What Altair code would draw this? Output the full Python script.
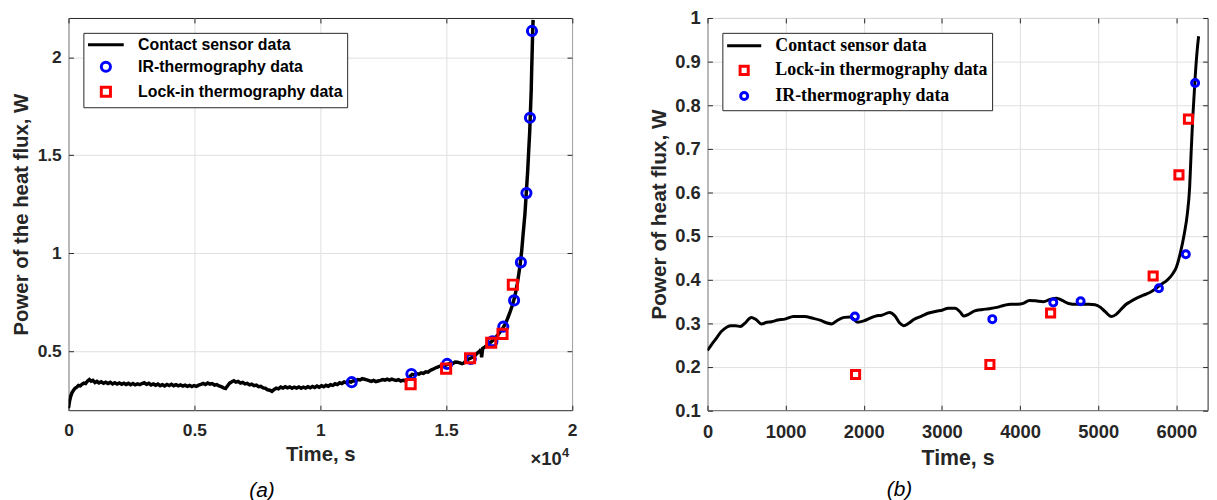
import altair as alt
import pandas as pd

# ---------------- data: panel (a) ----------------
A_LINE_T = [0, 40, 90, 140, 200, 260, 330, 400, 470, 540, 610, 680, 760, 830, 900, 970,
            1050, 1130, 1210, 1300, 1390, 1480, 1570, 1660, 1750, 1840, 1930, 2020, 2110,
            2200, 2290, 2380, 2470, 2560, 2650, 2740, 2830, 2920, 3010, 3100, 3190, 3280,
            3370, 3460, 3550, 3640, 3730, 3820, 3910, 4000, 4090, 4180, 4270, 4360, 4450,
            4540, 4630, 4720, 4810, 4900, 4990, 5080, 5170, 5260, 5350, 5440, 5530, 5620,
            5710, 5800, 5890, 5980, 6070, 6160, 6240, 6320, 6400, 6490, 6570, 6650, 6740,
            6830, 6920, 7010, 7100, 7190, 7280, 7370, 7460, 7550, 7640, 7730, 7820, 7910,
            8000, 8080, 8160, 8250, 8340, 8430, 8520, 8610, 8700, 8790, 8880, 8970, 9060,
            9150, 9240, 9330, 9420, 9510, 9600, 9690, 9780, 9870, 9960, 10050, 10140, 10230,
            10320, 10410, 10500, 10590, 10680, 10770, 10860, 10950, 11040, 11130, 11220,
            11310, 11400, 11490, 11580, 11670, 11760, 11850, 11940, 12030, 12120, 12210,
            12300, 12390, 12480, 12570, 12660, 12750, 12840, 12930, 13020, 13110, 13200,
            13290, 13380, 13470, 13560, 13650, 13740, 13830, 13920, 14010, 14100, 14190,
            14280, 14370, 14460, 14550, 14640, 14730, 14820, 14910, 15000, 15090, 15180,
            15270, 15360, 15450, 15540, 15630, 15720, 15810, 15900, 15990, 16080, 16170,
            16260, 16350, 16380, 16410, 16450, 16530, 16620, 16710, 16800, 16890, 16980,
            17070, 17160, 17250, 17340, 17430, 17530, 17630, 17730, 17830, 17930, 18000,
            18060, 18130, 18190, 18240, 18280, 18320, 18350, 18380, 18400, 18420, 18440, 18455]
A_LINE_V = [0.212, 0.245, 0.272, 0.290, 0.302, 0.312, 0.318, 0.326, 0.324, 0.333, 0.338, 0.336,
            0.349, 0.356, 0.348, 0.352, 0.341, 0.347, 0.339, 0.345, 0.337, 0.343, 0.336, 0.342,
            0.334, 0.340, 0.333, 0.339, 0.332, 0.338, 0.331, 0.337, 0.330, 0.336, 0.329, 0.334,
            0.330, 0.336, 0.340, 0.332, 0.337, 0.329, 0.334, 0.327, 0.333, 0.325, 0.330, 0.324,
            0.331, 0.326, 0.332, 0.325, 0.330, 0.324, 0.329, 0.323, 0.328, 0.322, 0.327, 0.321,
            0.326, 0.322, 0.328, 0.332, 0.337, 0.331, 0.339, 0.333, 0.336, 0.328, 0.331, 0.324,
            0.320, 0.314, 0.311, 0.325, 0.338, 0.345, 0.350, 0.343, 0.347, 0.338, 0.342, 0.334,
            0.337, 0.329, 0.333, 0.325, 0.328, 0.320, 0.322, 0.314, 0.312, 0.304, 0.302, 0.296,
            0.305, 0.313, 0.309, 0.318, 0.313, 0.320, 0.314, 0.319, 0.312, 0.318, 0.313, 0.319,
            0.312, 0.318, 0.313, 0.320, 0.314, 0.321, 0.316, 0.323, 0.317, 0.325, 0.320, 0.327,
            0.322, 0.330, 0.327, 0.335, 0.331, 0.340, 0.336, 0.344, 0.340, 0.346, 0.343, 0.350,
            0.348, 0.356, 0.354, 0.361, 0.358, 0.355, 0.351, 0.347, 0.352, 0.346, 0.349, 0.352,
            0.356, 0.353, 0.358, 0.354, 0.359, 0.355, 0.352, 0.356, 0.349, 0.353, 0.350, 0.358,
            0.372, 0.383, 0.380, 0.387, 0.384, 0.391, 0.388, 0.396, 0.394, 0.403, 0.408, 0.414,
            0.419, 0.423, 0.427, 0.425, 0.431, 0.435, 0.440, 0.438, 0.446, 0.445, 0.441, 0.437,
            0.442, 0.455, 0.461, 0.466, 0.474, 0.482, 0.494, 0.502, 0.512, 0.470, 0.515, 0.522,
            0.531, 0.541, 0.550, 0.561, 0.573, 0.587, 0.602, 0.618, 0.638, 0.664, 0.697, 0.735,
            0.781, 0.846, 0.933, 1.01, 1.10, 1.20, 1.32, 1.42, 1.523, 1.62, 1.725, 1.83, 1.944,
            2.04, 2.146, 2.19]
A_IR_T = [11250, 13620, 15040, 15980, 16840, 17270, 17700, 17970, 18190, 18330, 18410]
A_IR_V = [0.343, 0.385, 0.436, 0.461, 0.552, 0.626, 0.760, 0.954, 1.307, 1.691, 2.134]
A_LI_T = [13590, 15000, 15950, 16790, 17240, 17650]
A_LI_V = [0.333, 0.412, 0.465, 0.544, 0.589, 0.840]

# ---------------- data: panel (b) ----------------
B_LINE_T = [0, 50, 100, 180, 250, 300, 360, 420, 480, 560, 620, 690, 760, 820, 900, 990, 1100,
            1240, 1350, 1450, 1530, 1590, 1660, 1750, 1830, 1920, 2000, 2090, 2150, 2230, 2330,
            2400, 2460, 2510, 2570, 2640, 2740, 2830, 2930, 3010, 3080, 3170, 3230, 3280, 3340,
            3420, 3520, 3600, 3700, 3800, 3880, 3970, 4040, 4120, 4200, 4300, 4380, 4470, 4540,
            4620, 4720, 4800, 4880, 4960, 5030, 5090, 5170, 5230, 5290, 5350, 5410, 5480, 5580,
            5660, 5730, 5800, 5880, 5950, 6000, 6050, 6100, 6140, 6170, 6190, 6210, 6240, 6265,
            6285]
B_LINE_V = [0.237, 0.250, 0.262, 0.281, 0.291, 0.294, 0.294, 0.292, 0.300, 0.313, 0.308, 0.298,
            0.302, 0.303, 0.307, 0.309, 0.315, 0.315, 0.311, 0.306, 0.300, 0.298, 0.306, 0.313,
            0.314, 0.302, 0.305, 0.312, 0.316, 0.318, 0.324, 0.316, 0.300, 0.294, 0.299, 0.308,
            0.316, 0.323, 0.327, 0.330, 0.334, 0.334, 0.326, 0.316, 0.320, 0.328, 0.331, 0.333,
            0.336, 0.341, 0.343, 0.343, 0.345, 0.352, 0.351, 0.349, 0.354, 0.357, 0.352, 0.345,
            0.343, 0.343, 0.343, 0.342, 0.336, 0.326, 0.315, 0.320, 0.331, 0.342, 0.349, 0.356,
            0.364, 0.370, 0.378, 0.388, 0.398, 0.412, 0.428, 0.460, 0.503, 0.550, 0.611, 0.695,
            0.771, 0.862, 0.923, 0.958]
B_IR_T = [1886, 3645, 4425, 4775, 5777, 6121, 6240]
B_IR_V = [0.315, 0.309, 0.347, 0.350, 0.380, 0.458, 0.851]
B_LI_T = [1895, 3614, 4391, 5703, 6033, 6155]
B_LI_V = [0.182, 0.205, 0.323, 0.408, 0.640, 0.768]

CONTACT = "Contact sensor data"
IR = "IR-thermography data"
LI = "Lock-in thermography data"

A_X_TICKS = [0, 5000, 10000, 15000, 20000]
A_Y_TICKS = [0.5, 1, 1.5, 2]
B_X_TICKS = [0, 1000, 2000, 3000, 4000, 5000, 6000]
B_Y_TICKS = [0.1, 0.2, 0.3, 0.4, 0.5, 0.6, 0.7, 0.8, 0.9, 1.0]

AXC = "#262626"
GRID = "#e0e0e0"
BLUE = "#0000ff"
RED = "#ff0000"


def frame_axes(df, xs, ys, xvals, yvals):
    return alt.Chart(df).mark_line(opacity=0).encode(
        x=alt.X("t:Q", scale=xs, axis=alt.Axis(orient="top", values=xvals, labels=False,
                                               domain=False, grid=False, title=None,
                                               tickSize=5, offset=-5)),
        y=alt.Y("v:Q", scale=ys, axis=alt.Axis(orient="right", values=yvals, labels=False,
                                               domain=False, grid=False, title=None,
                                               tickSize=5, offset=-5)),
    )


# ---------------- panel (a) ----------------
WA, HA = 507.7, 395.5
a_line = pd.DataFrame({"t": A_LINE_T, "v": A_LINE_V})
a_pts = pd.DataFrame({"t": A_IR_T + A_LI_T, "v": A_IR_V + A_LI_V,
                      "series": [IR] * len(A_IR_T) + [LI] * len(A_LI_T)})
xa = alt.Scale(domain=[0, 20000], nice=False, zero=False)
ya = alt.Scale(domain=[0.2, 2.2], nice=False, zero=False)
dom_a = [CONTACT, IR, LI]
leg_a = alt.Legend(title=None, orient="top-left", offset=15, padding=4, labelLimit=600,
                   strokeColor=AXC, fillColor="white", labelFont="Liberation Sans",
                   labelFontWeight="bold", labelFontSize=16, labelColor="black",
                   symbolSize=80, symbolStrokeWidth=3, symbolOffset=10.7, labelOffset=24.4,
                   rowPadding=3.2)

a1 = alt.Chart(a_line).mark_line(color="black", strokeWidth=3.5, clip=True).encode(
    x=alt.X("t:Q", scale=xa, axis=alt.Axis(
        orient="bottom", values=A_X_TICKS, labelExpr="datum.value / 10000", labelFlush=False,
        labelFontSize=17.5, labelPadding=11.5, tickSize=5, offset=-5, domain=False, grid=True,
        title="Time, s", titleFontSize=20.5, titlePadding=6, labelOverlap=False)),
    y=alt.Y("v:Q", scale=ya, axis=alt.Axis(
        orient="left", values=A_Y_TICKS, format="~g", labelFlush=False, labelFontSize=17.5,
        labelPadding=7.3, tickSize=5, offset=-5, domain=False, grid=True,
        title="Power of the heat flux, W", titleFontSize=20.5, titlePadding=6,
        labelOverlap=False)),
)
a2 = alt.Chart(a_pts).mark_point(filled=False, strokeWidth=3, clip=True, opacity=1).encode(
    x=alt.X("t:Q", scale=xa, axis=None),
    y=alt.Y("v:Q", scale=ya, axis=None),
    color=alt.Color("series:N", scale=alt.Scale(domain=dom_a, range=["black", BLUE, RED]),
                    legend=leg_a),
    shape=alt.Shape("series:N", scale=alt.Scale(domain=dom_a,
                                                range=["M-3.91,0H3.91", "circle", "square"]),
                    legend=leg_a),
    size=alt.Size("series:N", scale=alt.Scale(domain=dom_a, range=[85, 85, 50]), legend=None),
)
a3 = frame_axes(a_line, xa, ya, A_X_TICKS, A_Y_TICKS)
a4 = alt.Chart(pd.DataFrame({"s": ["×10"]})).mark_text(
    align="right", baseline="middle", font="Liberation Sans", fontWeight="bold",
    fontSize=18.5, color=AXC).encode(text="s:N", x=alt.value(WA - 10.5), y=alt.value(HA + 49.5))
a5 = alt.Chart(pd.DataFrame({"s": ["4"]})).mark_text(
    align="left", baseline="middle", font="Liberation Sans", fontWeight="bold",
    fontSize=13, color=AXC).encode(text="s:N", x=alt.value(WA - 10), y=alt.value(HA + 43))

panel_a = alt.layer(a1, a2, a3, a4, a5).resolve_axis(x="independent", y="independent").properties(
    width=WA, height=HA,
    title=alt.TitleParams("(a)", orient="bottom", anchor="middle", dx=-58.7, offset=12,
                          font="Liberation Sans", fontSize=21, fontStyle="italic",
                          fontWeight="normal", color="black"))

# ---------------- panel (b) ----------------
WB, HB = 504.3, 395.5
b_line = pd.DataFrame({"t": B_LINE_T, "v": B_LINE_V})
b_pts = pd.DataFrame({"t": B_IR_T + B_LI_T, "v": B_IR_V + B_LI_V,
                      "series": [IR] * len(B_IR_T) + [LI] * len(B_LI_T)})
xb = alt.Scale(domain=[0, 6400], nice=False, zero=False)
yb = alt.Scale(domain=[0.1, 1.0], nice=False, zero=False)
dom_b = [CONTACT, LI, IR]
leg_b = alt.Legend(title=None, orient="top-left", offset=15, padding=4, labelLimit=600,
                   strokeColor=AXC, fillColor="white", labelFont="Liberation Serif",
                   labelFontWeight="bold", labelFontSize=18, labelColor="black",
                   symbolSize=80, symbolStrokeWidth=3, symbolOffset=9, labelOffset=22.4,
                   rowPadding=4.8)

b1 = alt.Chart(b_line).mark_line(color="black", strokeWidth=3, clip=True,
                                 interpolate="monotone").encode(
    x=alt.X("t:Q", scale=xb, axis=alt.Axis(
        orient="bottom", values=B_X_TICKS, format="d", labelFlush=False,
        labelFontSize=18.5, labelPadding=12.5, tickSize=5, offset=-5, domain=False, grid=True,
        title="Time, s", titleFontSize=21.5, titlePadding=6.5, labelOverlap=False)),
    y=alt.Y("v:Q", scale=yb, axis=alt.Axis(
        orient="left", values=B_Y_TICKS, format="~g", labelFlush=False, labelFontSize=18.5,
        labelPadding=7.3, tickSize=5, offset=-5, domain=False, grid=True,
        title="Power of heat flux, W", titleFontSize=21, titlePadding=5.5,
        labelOverlap=False)),
)
b2 = alt.Chart(b_pts).mark_point(filled=False, strokeWidth=3, clip=True, opacity=1).encode(
    x=alt.X("t:Q", scale=xb, axis=None),
    y=alt.Y("v:Q", scale=yb, axis=None),
    color=alt.Color("series:N", scale=alt.Scale(domain=dom_b, range=["black", RED, BLUE]),
                    legend=leg_b),
    shape=alt.Shape("series:N", scale=alt.Scale(domain=dom_b,
                                                range=["M-3.73,0H3.73", "square", "circle"]),
                    legend=leg_b),
    size=alt.Size("series:N", scale=alt.Scale(domain=dom_b, range=[85, 50, 85]), legend=None),
)
b3 = frame_axes(b_line, xb, yb, B_X_TICKS, B_Y_TICKS)

panel_b = alt.layer(b1, b2, b3).resolve_axis(x="independent", y="independent").properties(
    width=WB, height=HB,
    title=alt.TitleParams("(b)", orient="bottom", anchor="middle", dx=-58.5, offset=10,
                          font="Liberation Sans", fontSize=21, fontStyle="italic",
                          fontWeight="normal", color="black"))

chart = alt.hconcat(panel_a, panel_b, spacing=136.3, bounds="flush").resolve_scale(
    color="independent", shape="independent", size="independent"
).properties(
    padding={"left": 2, "top": -2, "right": 0, "bottom": 0}, background="white"
).configure_view(stroke=AXC, strokeWidth=1).configure_axis(
    labelFont="Liberation Sans", labelFontWeight="bold", labelColor=AXC,
    titleFont="Liberation Sans", titleFontWeight="bold", titleColor=AXC,
    tickColor=AXC, tickWidth=1, gridColor=GRID, gridWidth=1, gridOpacity=1
)

chart.save("out.html", embed_options={"renderer": "svg", "actions": False})
